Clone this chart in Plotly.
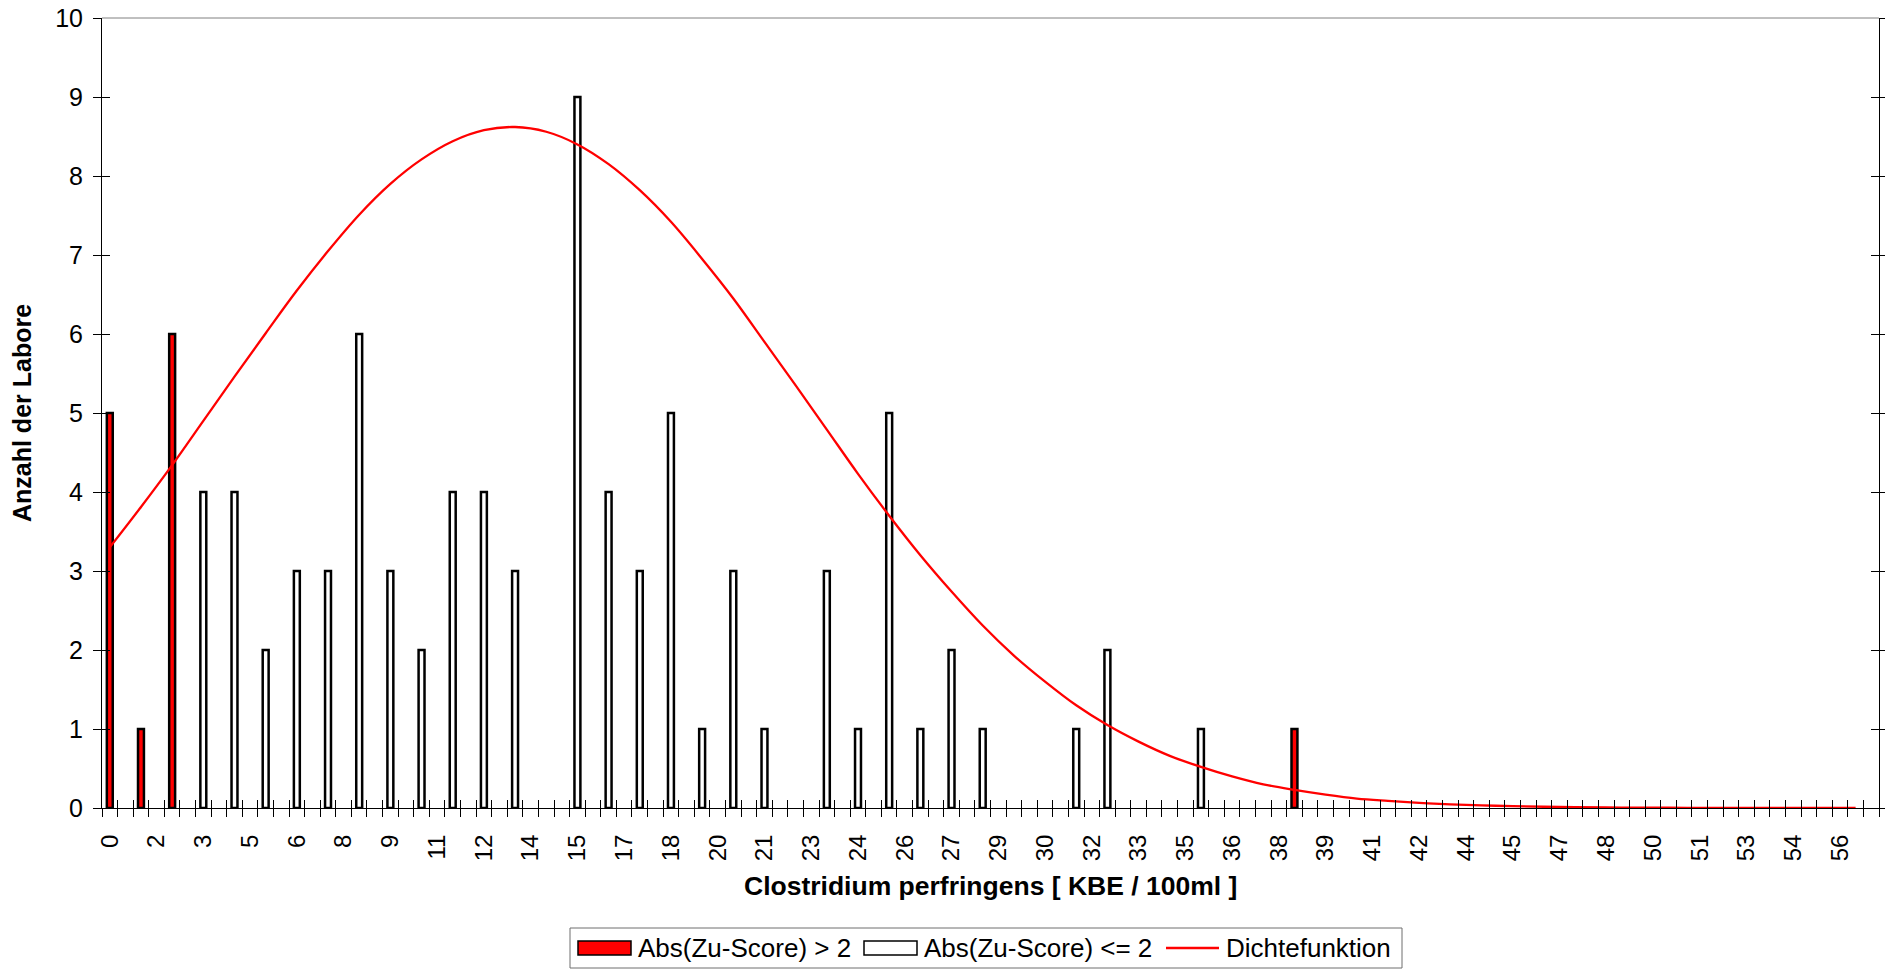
import plotly.graph_objects as go

# ---- data ----
bin_values = list(range(39))  # KBE / 100ml, one bar per integer value
outlier_counts = [5, 1, 6, 0, 0, 0, 0, 0, 0, 0,
                  0, 0, 0, 0, 0, 0, 0, 0, 0, 0,
                  0, 0, 0, 0, 0, 0, 0, 0, 0, 0,
                  0, 0, 0, 0, 0, 0, 0, 0, 1]
ok_counts = [0, 0, 0, 4, 4, 2, 3, 3, 6, 3,
             2, 4, 4, 3, 0, 9, 4, 3, 5, 1,
             3, 1, 0, 3, 1, 5, 1, 2, 1, 0,
             0, 1, 2, 0, 0, 1, 0, 0, 0]
density_x = list(range(57))
density_y = [3.30, 3.81, 4.34, 4.90, 5.46, 6.01, 6.55, 7.05, 7.51, 7.90,
             8.21, 8.44, 8.58, 8.62, 8.56, 8.40, 8.15, 7.82, 7.42, 6.95,
             6.45, 5.90, 5.35, 4.79, 4.23, 3.70, 3.20, 2.74, 2.31, 1.93,
             1.60, 1.30, 1.05, 0.84, 0.66, 0.52, 0.40, 0.30, 0.23, 0.17,
             0.12, 0.09, 0.065, 0.046, 0.033, 0.023, 0.016, 0.011, 0.007, 0.005,
             0.003, 0.002, 0.001, 0.001, 0.0, 0.0, 0.0]
tick_labels = ["0", "2", "3", "5", "6", "8", "9", "11", "12", "14", "15", "17", "18",
               "20", "21", "23", "24", "26", "27", "29", "30", "32", "33", "35", "36",
               "38", "39", "41", "42", "44", "45", "47", "48", "50", "51", "53", "54", "56"]
series_names = ["Abs(Zu-Score) > 2", "Abs(Zu-Score) <= 2", "Dichtefunktion"]
category_step = 0.5
label_every = 3

FONT = "Liberation Sans, Arial, sans-serif"
RED = "#FF0000"

tick_positions = [i * category_step * label_every for i in range(len(tick_labels))]
x_min = -category_step / 2
x_max = x_min + 114 * category_step

def nz(vals):
    return [v if v else None for v in vals]

fig = go.Figure()
fig.add_trace(go.Bar(
    x=bin_values, y=nz(outlier_counts), name=series_names[0],
    marker=dict(color=RED, line=dict(color="black", width=2.5)),
    width=0.19, showlegend=False,
))
fig.add_trace(go.Bar(
    x=bin_values, y=nz(ok_counts), name=series_names[1],
    marker=dict(color="white", line=dict(color="black", width=2.5)),
    width=0.19, showlegend=False,
))
fig.add_trace(go.Scatter(
    x=density_x, y=density_y, name=series_names[2], mode="lines",
    line=dict(color=RED, width=2.3, shape="spline"),
    xaxis="x2", yaxis="y2", showlegend=False,
))
# empty trace to carry the label axis
fig.add_trace(go.Scatter(x=[], y=[], xaxis="x3", yaxis="y", showlegend=False,
                         hoverinfo="skip"))

# ---- legend drawn in paper coordinates (Excel style wide keys) ----
def px(x):
    return (x - 102) / 1777.0

def py(y):
    return (808 - y) / 790.0

leg_y = py(948)
shapes = [
    dict(type="line", xref="paper", yref="paper", x0=0, x1=1, y0=1, y1=1,
         line=dict(color="#808080", width=1)),
    dict(type="rect", xref="paper", yref="paper", x0=px(570), x1=px(1402),
         y0=py(968), y1=py(928), line=dict(color="#6e6e6e", width=1),
         fillcolor="white", layer="above"),
    dict(type="rect", xref="paper", yref="paper", x0=px(578), x1=px(631),
         y0=py(955), y1=py(941), line=dict(color="black", width=1.5),
         fillcolor=RED, layer="above"),
    dict(type="rect", xref="paper", yref="paper", x0=px(864), x1=px(917),
         y0=py(955), y1=py(941), line=dict(color="black", width=1.5),
         fillcolor="white", layer="above"),
    dict(type="line", xref="paper", yref="paper", x0=px(1166), x1=px(1219),
         y0=leg_y, y1=leg_y, line=dict(color=RED, width=2.5), layer="above"),
]
legend_texts = [(series_names[0], 636), (series_names[1], 922), (series_names[2], 1224)]

annotations = [
    dict(text="<b>Anzahl der Labore</b>", xref="paper", yref="paper",
         x=-0.045, y=0.5, xanchor="center", yanchor="middle",
         textangle=-90, showarrow=False, font=dict(size=25, family=FONT)),
    dict(text="<b>Clostridium perfringens [ KBE / 100ml ]</b>", xref="paper",
         yref="paper", x=0.5, y=-0.0987, xanchor="center", yanchor="middle",
         showarrow=False, font=dict(size=26.5, family=FONT)),
]
for txt, xpos in legend_texts:
    annotations.append(dict(text=txt, xref="paper", yref="paper", x=px(xpos), y=leg_y,
                            xanchor="left", yanchor="middle", showarrow=False,
                            font=dict(size=26, family=FONT, color="black")))

common_x = dict(range=[x_min, x_max], showgrid=False, zeroline=False, automargin=False)
fig.update_layout(
    width=1885, height=971,
    margin=dict(l=102, r=6, t=18, b=163, autoexpand=False),
    paper_bgcolor="white", plot_bgcolor="white",
    font=dict(family=FONT, size=24, color="black"),
    barmode="overlay",
    showlegend=False,
    xaxis=dict(**common_x, tickmode="linear", tick0=x_min, dtick=category_step,
               ticks="outside", ticklen=8, tickwidth=1, tickcolor="black",
               showticklabels=False, showline=True, linecolor="black", linewidth=1),
    xaxis2=dict(**common_x, overlaying="x", matches="x", anchor="y", side="bottom",
                tickmode="linear", tick0=x_min, dtick=category_step,
                ticks="inside", ticklen=8, tickwidth=1, tickcolor="black",
                showticklabels=False, showline=False),
    xaxis3=dict(**common_x, overlaying="x", matches="x", anchor="y", side="bottom",
                tickmode="array", tickvals=tick_positions, ticktext=tick_labels,
                tickangle=-90, ticks="outside", ticklen=16,
                tickcolor="rgba(0,0,0,0)", showline=False,
                tickfont=dict(size=24, family=FONT)),
    yaxis=dict(range=[0, 10], tickmode="linear", tick0=0, dtick=1,
               ticks="outside", ticklen=8, tickwidth=1, tickcolor="black",
               showline=True, linecolor="black", linewidth=1, mirror="ticks",
               showgrid=False, zeroline=False, ticklabelstandoff=5, automargin=False,
               tickfont=dict(size=25, family=FONT)),
    yaxis2=dict(range=[0, 10], overlaying="y", matches="y", anchor="x", side="left",
                tickmode="linear", tick0=0, dtick=1,
                ticks="inside", ticklen=8, tickwidth=1, tickcolor="black",
                showline=False, mirror="ticks", showticklabels=False,
                showgrid=False, zeroline=False, automargin=False),
    annotations=annotations,
    shapes=shapes,
)

fig.write_html("out.html", config={"displayModeBar": False},
               post_script="document.body.style.margin='0';"
                           "document.body.style.overflow='hidden';")
